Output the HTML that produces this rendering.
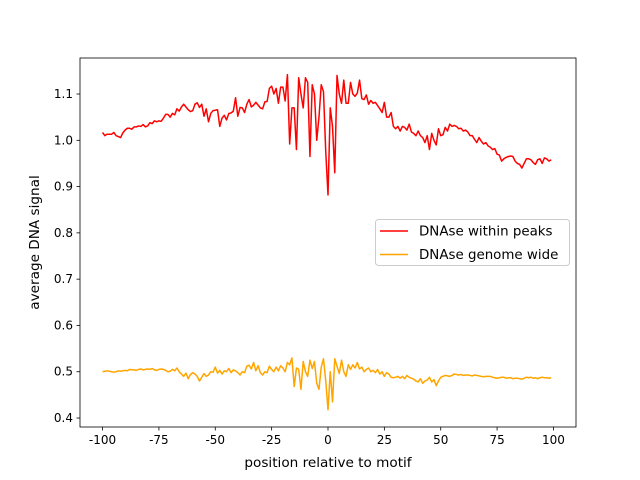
<!DOCTYPE html>
<html><head><meta charset="utf-8"><style>body{margin:0;background:#fff}svg{display:block;font-family:"DejaVu Sans","Liberation Sans",sans-serif}</style></head>
<body>
<svg id="chart" width="640" height="480" xmlns="http://www.w3.org/2000/svg">
<rect width="640" height="480" fill="#fff"/>
<g id="marks"></g>
<g id="axes"></g>
</svg>
<script>
const positions = [];
for (let i = -100; i < 100; i++) positions.push(i);
const peaksSignal = [
1.017,1.010,1.013,1.013,1.013,1.017,1.010,1.008,1.006,1.016,
1.022,1.026,1.026,1.024,1.029,1.029,1.031,1.030,1.034,1.029,
1.031,1.038,1.036,1.042,1.040,1.042,1.041,1.048,1.056,1.056,
1.050,1.058,1.055,1.068,1.063,1.072,1.078,1.072,1.066,1.062,
1.064,1.078,1.081,1.071,1.078,1.052,1.068,1.040,1.058,1.064,
1.065,1.066,1.030,1.048,1.054,1.044,1.058,1.059,1.063,1.092,
1.052,1.071,1.070,1.060,1.078,1.088,1.072,1.076,1.082,1.076,
1.070,1.068,1.083,1.084,1.112,1.117,1.100,1.112,1.080,1.115,
1.115,1.085,1.142,0.992,1.070,1.070,0.980,1.135,1.100,1.070,
1.135,1.125,0.965,1.120,1.100,1.000,1.050,1.120,1.105,0.975,
0.882,1.070,1.030,0.930,1.140,1.100,1.080,1.130,1.080,1.080,
1.125,1.100,1.095,1.102,1.130,1.090,1.088,1.098,1.078,1.086,
1.080,1.082,1.075,1.068,1.060,1.082,1.050,1.050,1.060,1.030,
1.025,1.030,1.020,1.030,1.028,1.022,1.035,1.018,1.015,1.010,
1.020,1.010,1.006,0.995,1.010,0.980,1.015,1.000,0.990,1.025,
1.010,1.012,1.028,1.020,1.035,1.030,1.032,1.030,1.025,1.026,
1.020,1.022,1.018,1.010,1.010,1.002,0.995,1.006,0.998,0.992,
0.995,0.988,0.985,0.980,0.982,0.970,0.968,0.955,0.960,0.963,
0.965,0.966,0.965,0.955,0.950,0.948,0.940,0.950,0.960,0.960,
0.958,0.952,0.948,0.958,0.960,0.950,0.962,0.960,0.955,0.958];
const genomeSignal = [
0.500,0.501,0.502,0.501,0.500,0.499,0.500,0.502,0.501,0.502,
0.503,0.502,0.505,0.504,0.504,0.503,0.505,0.506,0.504,0.505,
0.506,0.505,0.507,0.504,0.503,0.505,0.506,0.505,0.503,0.500,
0.501,0.505,0.502,0.508,0.500,0.495,0.490,0.497,0.485,0.494,
0.498,0.495,0.490,0.480,0.488,0.496,0.490,0.493,0.500,0.499,
0.510,0.497,0.503,0.495,0.502,0.500,0.507,0.498,0.504,0.502,
0.498,0.493,0.500,0.498,0.512,0.514,0.506,0.520,0.502,0.513,
0.498,0.493,0.500,0.498,0.512,0.505,0.500,0.510,0.502,0.513,
0.508,0.500,0.520,0.515,0.530,0.468,0.508,0.505,0.462,0.522,
0.500,0.490,0.525,0.507,0.522,0.475,0.462,0.510,0.528,0.480,
0.418,0.500,0.435,0.528,0.512,0.496,0.525,0.500,0.490,0.515,
0.505,0.515,0.508,0.520,0.506,0.510,0.500,0.505,0.508,0.500,
0.503,0.498,0.505,0.495,0.500,0.490,0.498,0.495,0.488,0.487,
0.488,0.490,0.486,0.490,0.485,0.492,0.488,0.486,0.484,0.480,
0.478,0.485,0.475,0.480,0.482,0.488,0.478,0.483,0.470,0.480,
0.488,0.490,0.492,0.491,0.490,0.492,0.495,0.494,0.493,0.494,
0.492,0.493,0.493,0.492,0.491,0.493,0.492,0.491,0.490,0.489,
0.490,0.490,0.490,0.488,0.487,0.486,0.487,0.488,0.488,0.486,
0.487,0.487,0.485,0.486,0.486,0.485,0.484,0.486,0.488,0.487,
0.488,0.486,0.487,0.485,0.487,0.488,0.487,0.487,0.486,0.487];
const xTicks = [-100,-75,-50,-25,0,25,50,75,100];
const yTicks = [0.4,0.5,0.6,0.7,0.8,0.9,1.0,1.1];
const yTickLabels = ["0.4","0.5","0.6","0.7","0.8","0.9","1.0","1.1"];
const seriesNames = ["DNAse within peaks","DNAse genome wide"];

const L=80,R=576,T=58,B=427;
const xMin=-110,xMax=110,yMin=0.3806,yMax=1.1778;
const sx=v=>L+(v-xMin)/(xMax-xMin)*(R-L);
const sy=v=>B-(v-yMin)/(yMax-yMin)*(B-T);
const NS="http://www.w3.org/2000/svg";
function mk(tag,attrs,parent){const e=document.createElementNS(NS,tag);for(const k in attrs)e.setAttribute(k,attrs[k]);parent.appendChild(e);return e;}
const marks=document.getElementById('marks'),axes=document.getElementById('axes');

function line(vals,color,name){
  const d=vals.map((v,i)=>(i?'L':'M')+sx(positions[i]).toFixed(2)+' '+sy(v).toFixed(2)).join(' ');
  const p=mk('path',{d:d,fill:'none',stroke:color,'stroke-width':1.5,'stroke-linejoin':'round'},marks);
  
  
}
line(peaksSignal,'#ff0000','peaks-series-line');
line(genomeSignal,'#ffa500','genome-series-line');

const frame=mk('rect',{x:L,y:T,width:R-L,height:B-T,fill:'none',stroke:'#000','stroke-width':0.8},axes);



xTicks.forEach(t=>{
  const x=sx(t);
  const tk=mk('line',{x1:x,x2:x,y1:B,y2:B+3.5,stroke:'#000','stroke-width':0.8},axes);
  
  
  const tx=mk('text',{x:x,y:B+17,'font-size':'12','text-anchor':'middle',fill:'#000'},axes);
  tx.textContent=String(t);
  
  
});
yTicks.forEach((t,i)=>{
  const y=sy(t);
  const tk=mk('line',{x1:L-3.5,x2:L,y1:y,y2:y,stroke:'#000','stroke-width':0.8},axes);
  
  
  const tx=mk('text',{x:L-7,y:y+4,'font-size':'12','text-anchor':'end',fill:'#000'},axes);
  tx.textContent=yTickLabels[i];
  
  
});
const xl=mk('text',{x:(L+R)/2,y:467,'font-size':'13.6','text-anchor':'middle'},axes);
xl.textContent='position relative to motif';


const yl=mk('text',{x:0,y:0,'font-size':'13.6','text-anchor':'middle',transform:'translate(39,'+((T+B)/2)+') rotate(-90)'},axes);
yl.textContent='average DNA signal';



const lg=mk('g',{},axes);


mk('rect',{x:375.5,y:219.5,width:194,height:46,rx:3,fill:'#fff','fill-opacity':0.8,stroke:'#ccc','stroke-width':1},lg);
const colors=['#ff0000','#ffa500'];
seriesNames.forEach((n,i)=>{
  const y=231+i*23.5;
  const ln=mk('line',{x1:380,x2:408,y1:y,y2:y,stroke:colors[i],'stroke-width':1.5},lg);
  
  
  const tx=mk('text',{x:419,y:y+4.5,'font-size':'13.4'},lg);
  tx.textContent=n;
  
  
});
</script>
</body></html>
